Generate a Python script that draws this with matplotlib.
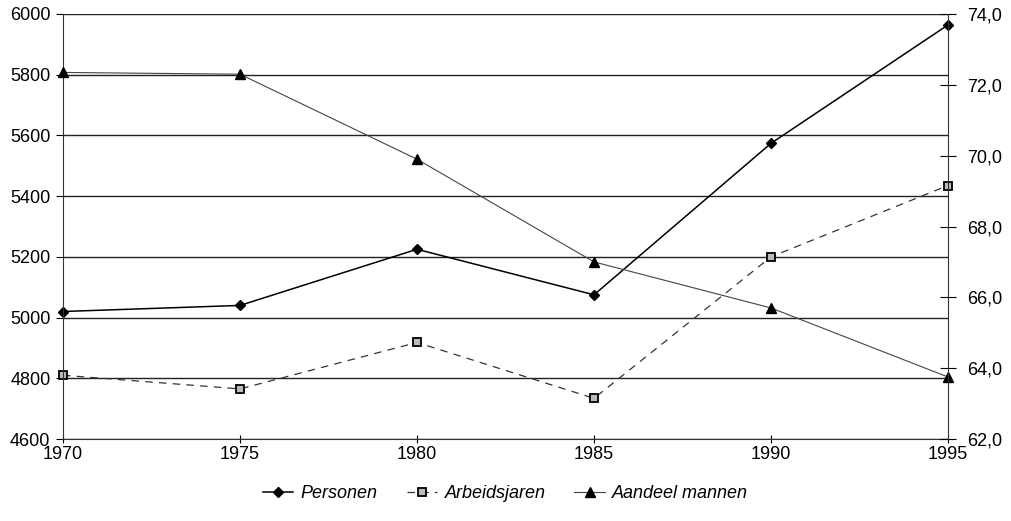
import matplotlib
matplotlib.use("Agg")
import matplotlib.pyplot as plt
from matplotlib.ticker import FuncFormatter

plt.rcParams["font.family"] = ["Liberation Sans", "DejaVu Sans"]

years = [1970, 1975, 1980, 1985, 1990, 1995]
personen = [5020, 5040, 5225, 5075, 5574, 5964]
arbeidsjaren = [4810, 4765, 4918, 4734, 5200, 5435]
aandeel_mannen = [72.35, 72.3, 69.9, 67.0, 65.7, 63.75]

left_ticks = list(range(4600, 6001, 200))
right_ticks = [62, 64, 66, 68, 70, 72, 74]

fig = plt.figure(figsize=(10.11, 5.21), dpi=100)
ax = fig.add_axes([63 / 1011, 82 / 521, 885 / 1011, 425 / 521])
ax2 = ax.twinx()

ax.set_xlim(1970, 1995)
ax.set_ylim(4600, 6000)
ax2.set_ylim(62, 74)

ax.set_yticks(left_ticks)
ax.set_xticks(years)
ax2.set_yticks(right_ticks)
ax2.yaxis.set_major_formatter(FuncFormatter(lambda v, p: f"{v:.1f}".replace(".", ",")))

ax.grid(axis="y", color="#222222", linewidth=1.0)
ax.set_axisbelow(True)

for a in (ax, ax2):
    a.spines["top"].set_visible(False)
ax.spines["right"].set_visible(False)
ax.spines["left"].set_color("#333333")
ax.spines["bottom"].set_color("#333333")
ax2.spines["right"].set_color("#333333")
ax2.spines["left"].set_visible(False)
ax2.spines["bottom"].set_visible(False)

ax.tick_params(axis="y", direction="out", length=5, labelsize=13, pad=4)
ax.tick_params(axis="x", direction="inout", length=6, labelsize=13, pad=2)
ax2.tick_params(axis="y", direction="inout", length=12, labelsize=13, pad=8)

l1, = ax.plot(years, personen, color="black", linewidth=1.1, marker="D",
              markersize=5.5, label="Personen")
l2, = ax.plot(years, arbeidsjaren, color="#333333", linewidth=0.9, linestyle=(0, (6, 5)),
              marker="s", markersize=6, markerfacecolor="#bbbbbb",
              markeredgecolor="black", markeredgewidth=1.3, label="Arbeidsjaren")
l3, = ax2.plot(years, aandeel_mannen, color="#444444", linewidth=0.8, marker="^",
               markersize=7, markerfacecolor="black", markeredgecolor="black",
               label="Aandeel mannen")
for l in (l1, l2, l3):
    l.set_clip_on(False)

fig.legend(handles=[l1, l2, l3], loc="center", bbox_to_anchor=(0.5, 27 / 521),
           ncol=3, frameon=False, handlelength=1.7, columnspacing=1.6,
           handletextpad=0.4, prop={"style": "italic", "size": 13})

fig.savefig("out.png", dpi=100)
